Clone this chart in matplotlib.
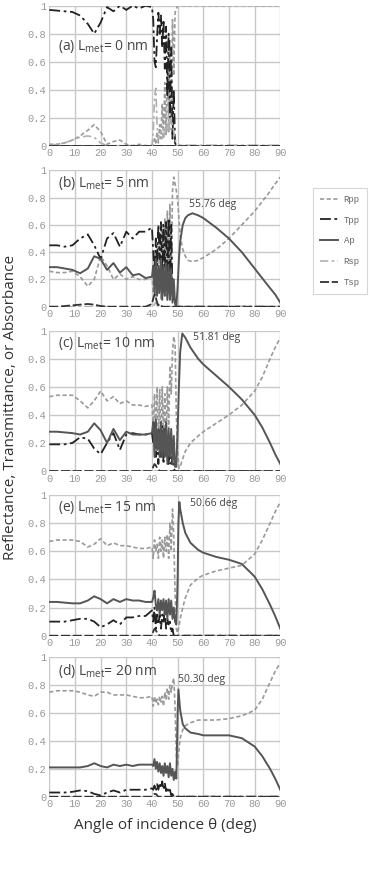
import matplotlib
matplotlib.use("Agg")
import matplotlib.pyplot as plt

# common angle grids (deg)
th_lo = [0, 3, 6, 9, 12, 15, 17.5, 20, 22.5, 25, 27.5, 30, 32.5, 35, 37.5, 40]
th_mid = [40.5, 41, 41.5, 42, 42.5, 43, 43.5, 44, 44.5, 45, 45.5, 46, 46.5,
          47, 47.5, 48, 48.5, 49, 49.5]
th_end = [50, 90]

# ---- (a) L_met = 0 nm
a_th_hi = [50, 55, 60, 70, 80, 90]
a_rpp = ([0.01, 0.01, 0.02, 0.04, 0.07, 0.11, 0.15, 0.10, 0.01, 0.03, 0.04, 0.01, 0.0, 0.01, 0.0, 0.0]
         + [0.0, 0.05, 0.02, 0.10, 0.02, 0.15, 0.05, 0.30, 0.05, 0.45, 0.08, 0.60, 0.10, 0.75, 0.15, 0.90, 0.50, 0.95, 0.98]
         + [1.0, 1.0, 1.0, 1.0, 1.0, 1.0])
a_tpp = ([0.97, 0.965, 0.96, 0.955, 0.93, 0.87, 0.80, 0.88, 0.99, 0.96, 1.0, 0.97, 1.0, 0.98, 1.0, 0.99]
         + [0.90, 0.60, 0.56, 0.78, 0.95, 0.80, 0.93, 0.70, 0.90, 0.55, 0.85, 0.35, 0.80, 0.20, 0.70, 0.05, 0.40, 0.02, 0.0]
         + [0.0, 0.0])
a_ap = [0.0] * 16 + [0.0] * 19 + [0.0, 0.0]
a_rsp = ([0.0, 0.01, 0.02, 0.04, 0.06, 0.07, 0.06, 0.02, 0.0, 0.0, 0.0, 0.0, 0.0, 0.0, 0.0, 0.0]
         + [0.10, 0.35, 0.41, 0.15, 0.05, 0.08, 0.10, 0.05, 0.12, 0.08, 0.15, 0.10, 0.20, 0.10, 0.20, 0.15, 0.10, 0.05, 0.0]
         + [0.0, 0.0])
a_tsp = [0.0] * 16 + [0.0] * 19 + [0.0, 0.0]

# ---- (b) L_met = 5 nm
b_th_hi = [50, 50.5, 51, 52, 53, 54, 55.76, 58, 60, 65, 70, 75, 80, 85, 88, 90]
b_rpp = ([0.26, 0.25, 0.25, 0.26, 0.22, 0.15, 0.20, 0.37, 0.30, 0.20, 0.24, 0.20, 0.22, 0.20, 0.20, 0.22]
         + [0.10, 0.40, 0.05, 0.45, 0.10, 0.55, 0.05, 0.60, 0.10, 0.65, 0.08, 0.70, 0.10, 0.75, 0.15, 0.85, 0.95, 0.90, 0.85]
         + [0.78, 0.65, 0.52, 0.42, 0.37, 0.34, 0.33, 0.34, 0.36, 0.42, 0.50, 0.60, 0.70, 0.82, 0.90, 0.95])
b_tpp = ([0.45, 0.45, 0.44, 0.45, 0.50, 0.53, 0.45, 0.35, 0.50, 0.54, 0.44, 0.55, 0.50, 0.55, 0.55, 0.58]
         + [0.40, 0.20, 0.50, 0.30, 0.60, 0.35, 0.62, 0.25, 0.60, 0.20, 0.62, 0.20, 0.65, 0.15, 0.60, 0.10, 0.05, 0.05, 0.0]
         + [0.0, 0.0])
b_ap = ([0.29, 0.29, 0.28, 0.27, 0.245, 0.28, 0.37, 0.35, 0.27, 0.32, 0.25, 0.29, 0.23, 0.24, 0.21, 0.22]
        + [0.30, 0.10, 0.35, 0.08, 0.30, 0.10, 0.35, 0.05, 0.30, 0.08, 0.32, 0.05, 0.30, 0.05, 0.28, 0.03, 0.20, 0.02, 0.0]
        + [0.15, 0.35, 0.48, 0.60, 0.65, 0.67, 0.685, 0.67, 0.65, 0.58, 0.50, 0.40, 0.28, 0.16, 0.09, 0.03])
b_rsp = [0.0] * 16 + [0.0, 0.02, 0.03, 0.01] + [0.0] * 15 + [0.0, 0.0]
b_tsp = ([0.0, 0.0, 0.005, 0.01, 0.015, 0.02, 0.015, 0.005, 0.0, 0.0, 0.0, 0.0, 0.0, 0.0, 0.0, 0.02]
         + [0.06, 0.09, 0.07, 0.03, 0.01, 0.02, 0.01] + [0.0] * 12 + [0.0, 0.0])

# ---- (c) L_met = 10 nm
c_th_hi = [50, 50.5, 51, 51.81, 53, 55, 58, 60, 65, 70, 75, 80, 83, 86, 88, 90]
c_rpp = ([0.53, 0.54, 0.54, 0.54, 0.50, 0.45, 0.50, 0.57, 0.50, 0.53, 0.48, 0.50, 0.47, 0.47, 0.46, 0.47]
         + [0.30, 0.55, 0.25, 0.60, 0.20, 0.58, 0.15, 0.60, 0.25, 0.55, 0.20, 0.60, 0.30, 0.75, 0.55, 0.85, 0.96, 0.90, 0.40]
         + [0.15, 0.02, 0.03, 0.08, 0.14, 0.20, 0.25, 0.28, 0.34, 0.40, 0.47, 0.57, 0.67, 0.80, 0.88, 0.95])
c_tpp = ([0.19, 0.19, 0.19, 0.20, 0.24, 0.23, 0.16, 0.12, 0.20, 0.27, 0.15, 0.26, 0.27, 0.26, 0.26, 0.27]
         + [0.20, 0.35, 0.10, 0.30, 0.05, 0.30, 0.10, 0.32, 0.05, 0.30, 0.10, 0.25, 0.05, 0.20, 0.05, 0.10, 0.02, 0.0, 0.0]
         + [0.0, 0.0])
c_ap = ([0.28, 0.28, 0.275, 0.27, 0.26, 0.28, 0.34, 0.29, 0.20, 0.30, 0.22, 0.28, 0.26, 0.26, 0.26, 0.27]
        + [0.35, 0.10, 0.37, 0.15, 0.30, 0.10, 0.35, 0.10, 0.30, 0.10, 0.35, 0.05, 0.30, 0.10, 0.30, 0.05, 0.25, 0.03, 0.03]
        + [0.30, 0.60, 0.85, 0.98, 0.95, 0.88, 0.80, 0.76, 0.68, 0.60, 0.51, 0.40, 0.31, 0.20, 0.12, 0.05])
c_rsp = [0.0] * 16 + [0.0] * 19 + [0.0, 0.0]
c_tsp = [0.0] * 16 + [0.03, 0.05, 0.04, 0.02, 0.01] + [0.0] * 14 + [0.0, 0.0]

# ---- (e) L_met = 15 nm
e_th_hi = [50, 50.3, 50.66, 51, 52, 53, 55, 58, 60, 65, 70, 75, 80, 83, 86, 88, 90]
e_rpp = ([0.67, 0.68, 0.68, 0.68, 0.67, 0.63, 0.65, 0.69, 0.64, 0.66, 0.64, 0.64, 0.63, 0.62, 0.62, 0.63]
         + [0.55, 0.68, 0.60, 0.65, 0.55, 0.70, 0.60, 0.68, 0.55, 0.70, 0.60, 0.72, 0.55, 0.80, 0.60, 0.90, 0.70, 0.30, 0.05]
         + [0.02, 0.05, 0.08, 0.12, 0.20, 0.27, 0.36, 0.41, 0.43, 0.46, 0.48, 0.50, 0.58, 0.68, 0.80, 0.88, 0.95])
e_tpp = ([0.10, 0.10, 0.10, 0.11, 0.12, 0.12, 0.10, 0.06, 0.08, 0.11, 0.08, 0.13, 0.13, 0.14, 0.14, 0.18]
         + [0.10, 0.20, 0.05, 0.15, 0.08, 0.15, 0.05, 0.15, 0.10, 0.18, 0.05, 0.12, 0.08, 0.10, 0.02, 0.05, 0.0, 0.0, 0.0]
         + [0.0, 0.0])
e_ap = ([0.24, 0.24, 0.235, 0.23, 0.23, 0.25, 0.28, 0.26, 0.23, 0.26, 0.24, 0.26, 0.25, 0.25, 0.24, 0.24]
        + [0.27, 0.32, 0.22, 0.18, 0.26, 0.15, 0.25, 0.18, 0.26, 0.15, 0.25, 0.12, 0.26, 0.15, 0.25, 0.12, 0.20, 0.10, 0.08]
        + [0.40, 0.80, 0.95, 0.90, 0.80, 0.73, 0.66, 0.61, 0.59, 0.56, 0.54, 0.51, 0.42, 0.33, 0.22, 0.14, 0.05])
e_rsp = [0.0] * 16 + [0.0] * 19 + [0.0, 0.0]
e_tsp = [0.0] * 16 + [0.03, 0.05, 0.04, 0.02, 0.01] + [0.0] * 14 + [0.0, 0.0]

# ---- (d) L_met = 20 nm
d_th_hi = [50, 50.3, 51, 52, 53, 55, 58, 60, 65, 70, 75, 80, 83, 86, 88, 90]
d_rpp = ([0.75, 0.76, 0.76, 0.76, 0.75, 0.73, 0.72, 0.75, 0.75, 0.73, 0.73, 0.73, 0.72, 0.71, 0.71, 0.72]
         + [0.65, 0.72, 0.67, 0.70, 0.66, 0.72, 0.68, 0.72, 0.65, 0.75, 0.70, 0.78, 0.70, 0.80, 0.75, 0.82, 0.85, 0.65, 0.30]
         + [0.22, 0.30, 0.42, 0.48, 0.51, 0.53, 0.55, 0.55, 0.55, 0.56, 0.58, 0.62, 0.70, 0.82, 0.90, 0.96])
d_tpp = ([0.03, 0.03, 0.03, 0.035, 0.045, 0.04, 0.02, 0.01, 0.03, 0.045, 0.03, 0.05, 0.05, 0.05, 0.05, 0.06]
         + [0.05, 0.08, 0.04, 0.09, 0.05, 0.10, 0.06, 0.11, 0.05, 0.10, 0.04, 0.07, 0.03, 0.05, 0.01, 0.02, 0.0, 0.0, 0.0]
         + [0.0, 0.0])
d_ap = ([0.21, 0.21, 0.21, 0.21, 0.21, 0.22, 0.24, 0.22, 0.21, 0.23, 0.22, 0.23, 0.22, 0.23, 0.23, 0.23]
        + [0.22, 0.27, 0.20, 0.25, 0.18, 0.24, 0.17, 0.22, 0.15, 0.24, 0.17, 0.22, 0.14, 0.24, 0.15, 0.20, 0.12, 0.18, 0.13]
        + [0.60, 0.77, 0.62, 0.52, 0.49, 0.46, 0.45, 0.44, 0.44, 0.44, 0.42, 0.36, 0.29, 0.20, 0.13, 0.05])
d_rsp = [0.0] * 16 + [0.0] * 19 + [0.0, 0.0]
d_tsp = [0.0] * 16 + [0.01, 0.02, 0.02, 0.01] + [0.0] * 15 + [0.0, 0.0]

panel_titles = ["(a) L$_{\\mathregular{met}}$= 0 nm", "(b) L$_{\\mathregular{met}}$= 5 nm",
                "(c) L$_{\\mathregular{met}}$= 10 nm", "(e) L$_{\\mathregular{met}}$= 15 nm",
                "(d) L$_{\\mathregular{met}}$= 20 nm"]
peak_labels = [None, "55.76 deg", "51.81 deg", "50.66 deg", "50.30 deg"]
peak_pos = [None, (54.5, 0.75), (56, 0.95), (55, 0.94), (50.2, 0.84)]
title_y = [0.71, 0.91, 0.91, 0.91, 0.90]

panels = [
    (a_th_hi, a_rpp, a_tpp, a_ap, a_rsp, a_tsp),
    (b_th_hi, b_rpp, b_tpp, b_ap, b_rsp, b_tsp),
    (c_th_hi, c_rpp, c_tpp, c_ap, c_rsp, c_tsp),
    (e_th_hi, e_rpp, e_tpp, e_ap, e_rsp, e_tsp),
    (d_th_hi, d_rpp, d_tpp, d_ap, d_rsp, d_tsp),
]

# axes boxes in pixels (top, bottom) of the 376x872 figure
boxes = [(5.7, 145.7), (170.3, 306.7), (330.7, 471.0), (495.0, 635.7), (657.3, 796.7)]

styles = {
    "Rpp": dict(color="#9a9a9a", lw=1.2, dashes=(2.5, 1.5)),
    "Tpp": dict(color="#222222", lw=1.3, dashes=(6, 2, 1.5, 2)),
    "Ap": dict(color="#555555", lw=1.4),
    "Rsp": dict(color="#b0b0b0", lw=1.2, dashes=(5, 2, 1.5, 2)),
    "Tsp": dict(color="#333333", lw=1.3, dashes=(5, 1.5)),
}

W, H = 376, 872
fig = plt.figure(figsize=(W / 100, H / 100), dpi=100)
tickfont = dict(family="Liberation Mono", size=7.5, color="#9a9a9a")
txtfont = "Open Sans"

handles = []
for i, (th_hi, rpp, tpp, ap, rsp, tsp) in enumerate(panels):
    top, bot = boxes[i]
    ax = fig.add_axes([49.3 / W, 1 - bot / H, 231 / W, (bot - top) / H])
    x_full = th_lo + th_mid + th_hi
    x_short = th_lo + th_mid + th_end
    l1, = ax.plot(x_full, rpp, label="Rpp", **styles["Rpp"])
    l2, = ax.plot(x_short, tpp, label="Tpp", **styles["Tpp"])
    l3, = ax.plot(x_full if len(ap) == len(x_full) else x_short, ap, label="Ap", **styles["Ap"])
    l4, = ax.plot(x_short, rsp, label="Rsp", **styles["Rsp"])
    l5, = ax.plot(x_short, tsp, label="Tsp", **styles["Tsp"])
    if i == 1:
        handles = [l1, l2, l3, l4, l5]
    ax.set_xlim(0, 90)
    ax.set_ylim(0, 1)
    ax.set_xticks(range(0, 91, 10))
    ax.set_yticks([0, 0.2, 0.4, 0.6, 0.8, 1])
    ax.set_xticklabels([str(v) for v in range(0, 91, 10)], fontdict=tickfont)
    ax.set_yticklabels(["0", "0.2", "0.4", "0.6", "0.8", "1"], fontdict=tickfont)
    ax.tick_params(length=0, pad=2)
    ax.grid(color="#c8c8c8", lw=1.0)
    ax.set_axisbelow(True)
    for s in ax.spines.values():
        s.set_visible(False)
    ax.text(3.5, title_y[i], panel_titles[i], family=txtfont, fontsize=10,
            color="#444444", va="center")
    if peak_labels[i]:
        px, py = peak_pos[i]
        ax.text(px, py, peak_labels[i], family=txtfont, fontsize=7.5,
                color="#444444", va="center")

fig.text(165 / W, 1 - 825 / H, "Angle of incidence \u03b8 (deg)", family=txtfont,
         fontsize=11, color="#333333", ha="center", va="center")
fig.text(11 / W, 1 - 407 / H, "Reflectance, Transmittance, or Absorbance", family=txtfont,
         fontsize=11, color="#333333", ha="center", va="center", rotation=90)

leg = fig.legend(handles=handles, loc="lower left", bbox_to_anchor=(313 / W, 1 - 294 / H),
                 prop=dict(family="Liberation Mono", size=6.5), labelcolor="#666666",
                 handlelength=2.0, labelspacing=1.3, fancybox=False, borderpad=0.8,
                 handletextpad=0.6, borderaxespad=0)
leg.get_frame().set_edgecolor("#cccccc")
leg.get_frame().set_linewidth(0.8)

fig.savefig("out.png", dpi=100)
